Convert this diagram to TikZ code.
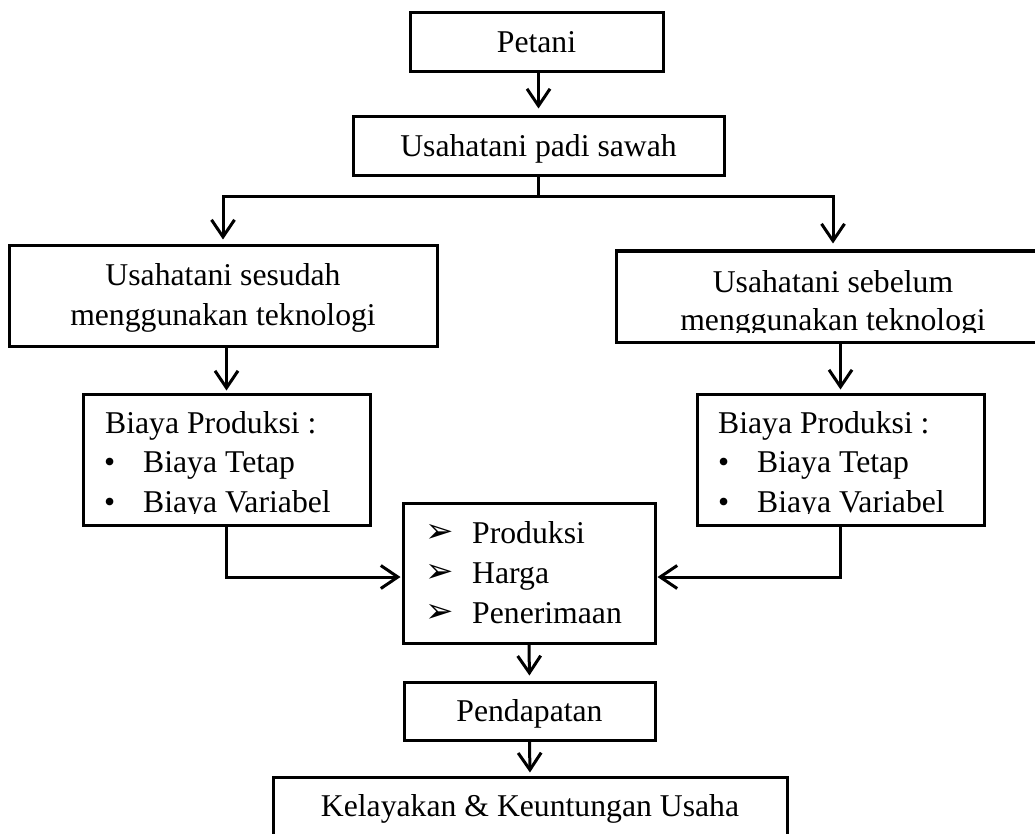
\documentclass[tikz,border=0pt]{standalone}
\usepackage{fontspec}
\setmainfont{Liberation Serif}
\newfontfamily\symfont{DejaVu Sans}
\usetikzlibrary{arrows.meta}
\begin{document}
\begin{tikzpicture}[x=1pt,y=-1pt,
  font=\fontsize{31.7}{39.5}\selectfont,
  box/.style={draw, line width=3pt, inner sep=0pt},
  conn/.style={line width=3pt, -{Straight Barb[length=17pt,width=23pt,line width=3pt]}},
  plain/.style={line width=3pt},
  txt/.style={inner sep=0pt, anchor=base},
  ltxt/.style={inner sep=0pt, anchor=base west},
  arr/.style={inner sep=0pt, anchor=west, font=\symfont\fontsize{34}{34}\selectfont}]
\useasboundingbox (0,0) rectangle (1035,834);

% boxes
\node[box, minimum width=253pt, minimum height=59pt] (petani) at (536.5,42.5) {};
\node[box, minimum width=371pt, minimum height=59pt] (usaha) at (538.5,146.5) {};
\node[box, minimum width=428pt, minimum height=100pt] (sesudah) at (223,296) {};
\node[box, minimum width=434pt, minimum height=91pt] (sebelum) at (833,296.5) {};
\node[box, minimum width=287pt, minimum height=131pt] (biayaL) at (226.5,459.5) {};
\node[box, minimum width=287pt, minimum height=131pt] (biayaR) at (840.5,459.5) {};
\node[box, minimum width=252pt, minimum height=140pt] (hasil) at (529,573) {};
\node[box, minimum width=251pt, minimum height=58pt] (pendapatan) at (529.5,711) {};
\node[box, minimum width=514pt, minimum height=70pt] (kelayakan) at (530,812) {};

% texts
\node[txt] (tpetani) at (536.5,53) {Petani};
\node[txt] (tusaha) at (538.5,157) {Usahatani padi sawah};
\node[txt] (tses1) at (223,285) {Usahatani sesudah};
\node[txt] (tses2) at (223,325) {menggunakan teknologi};
\begin{scope}
  \clip (616,251) rectangle (1050,332);
  \node[txt] (tseb1) at (833,292) {Usahatani sebelum};
  \node[txt] (tseb2) at (833,330) {menggunakan teknologi};
\end{scope}
\begin{scope}
  \clip (83,394) rectangle (370,513);
  \node[ltxt] (bl0) at (105,433) {Biaya Produksi :};
  \node[ltxt] (bl1b) at (104,472) {•};
  \node[ltxt] (bl1) at (143,472) {Biaya Tetap};
  \node[ltxt] (bl2b) at (104,512) {•};
  \node[ltxt] (bl2) at (143,512) {Biaya Variabel};
\end{scope}
\begin{scope}
  \clip (697,394) rectangle (984,513);
  \node[ltxt] (br0) at (718,433) {Biaya Produksi :};
  \node[ltxt] (br1b) at (718,472) {•};
  \node[ltxt] (br1) at (757,472) {Biaya Tetap};
  \node[ltxt] (br2b) at (718,512) {•};
  \node[ltxt] (br2) at (757,512) {Biaya Variabel};
\end{scope}
\node[arr] (h1b) at (425,533) {➢};
\node[ltxt] (h1) at (472,543) {Produksi};
\node[arr] (h2b) at (425,573) {➢};
\node[ltxt] (h2) at (472,583) {Harga};
\node[arr] (h3b) at (425,613) {➢};
\node[ltxt] (h3) at (472,623) {Penerimaan};
\node[txt] (tpend) at (529.5,721) {Pendapatan};
\node[txt] (tkel) at (530,816) {Kelayakan \& Keuntungan Usaha};

% connectors
\draw[conn, shorten >=7pt] (petani.south -| usaha.north) -- (usaha.north);
\coordinate (sp) at (usaha.south |- 0,197);
\draw[plain] (usaha.south) -- (sp);
\draw[conn, shorten >=5pt] (sp) -| (sesudah.north);
\draw[conn, shorten >=6pt] (sp) -| (sebelum.north);
\draw[conn, shorten >=2pt] (biayaL.north |- sesudah.south) -- (biayaL.north);
\draw[conn, shorten >=3pt] (biayaR.north |- sebelum.south) -- (biayaR.north);
\draw[conn, shorten >=1pt] (biayaL.south) |- ([yshift=-4pt]hasil.west);
\draw[conn, shorten >=1pt] (biayaR.south) |- ([yshift=-4pt]hasil.east);
\draw[conn, shorten >=5pt] (hasil.south) -- (pendapatan.north);
\draw[conn, shorten >=3pt] (pendapatan.south) -- (kelayakan.north);
\end{tikzpicture}
\end{document}
